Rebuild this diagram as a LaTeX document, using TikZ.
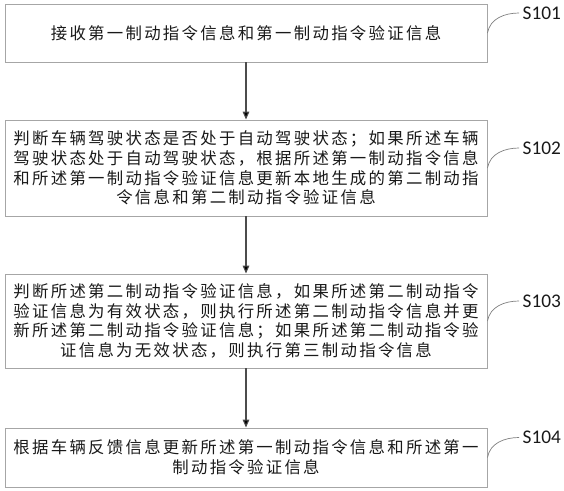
\documentclass[tikz,border=0pt]{standalone}
\usepackage{fontspec}
\setmainfont{Carlito}
\newfontfamily\cjk[LetterSpace=14]{Noto Sans CJK SC}
\usetikzlibrary{arrows.meta,positioning}

\begin{document}
\begin{tikzpicture}[
    stepbox/.style={draw=black!35, line width=0.8pt, minimum width=14.46cm, inner sep=0pt,
        align=center, text=black!90, font=\cjk\fontsize{14pt}{16.8pt}\selectfont},
    flow/.style={-{Triangle[length=2.4mm,width=2mm]}, draw=black!70, line width=0.9pt},
    tag/.style={inner sep=0pt, text=black!90, font=\fontsize{16.5pt}{18pt}\selectfont},
    lead/.style={draw=black!50, line width=0.6pt}
]
    \useasboundingbox (0,0) rectangle (16.92,-14.73);

    \node[stepbox, minimum height=1.74cm] (s1) at (7.38,-0.99) {接收第一制动指令信息和第一制动指令验证信息};
    \node[stepbox, minimum height=2.88cm] (s2) at (7.38,-5.04) {判断车辆驾驶状态是否处于自动驾驶状态；如果所述车辆\\
        驾驶状态处于自动驾驶状态，根据所述第一制动指令信息\\
        和所述第一制动指令验证信息更新本地生成的第二制动指\\
        令信息和第二制动指令验证信息};
    \node[stepbox, minimum height=2.82cm] (s3) at (7.38,-9.63) {判断所述第二制动指令验证信息，如果所述第二制动指令\\
        验证信息为有效状态，则执行所述第二制动指令信息并更\\
        新所述第二制动指令验证信息；如果所述第二制动指令验\\
        证信息为无效状态，则执行第三制动指令信息};
    \node[stepbox, minimum height=1.77cm] (s4) at (7.38,-13.725) {根据车辆反馈信息更新所述第一制动指令信息和所述第一\\
        制动指令验证信息};

    % step labels
    \node[tag, right=1.05cm of s1.east, yshift=0.6cm] (t1) {S101};
    \node[tag, right=1.05cm of s2.east, yshift=0.6cm] (t2) {S102};
    \node[tag, right=1.05cm of s3.east, yshift=0.6cm] (t3) {S103};
    \node[tag, right=1.05cm of s4.east, yshift=0.6cm] (t4) {S104};

    \path [flow](s1) edge (s2);
    \path [flow](s2) edge (s3);
    \path [flow](s3) edge (s4);

    \draw [lead](s1.east) to[out=80,in=180] ([xshift=-0.1cm]t1.west);
    \draw [lead](s2.east) to[out=80,in=180] ([xshift=-0.1cm]t2.west);
    \draw [lead](s3.east) to[out=80,in=180] ([xshift=-0.1cm]t3.west);
    \draw [lead](s4.east) to[out=80,in=180] ([xshift=-0.1cm]t4.west);

\end{tikzpicture}
\end{document}
